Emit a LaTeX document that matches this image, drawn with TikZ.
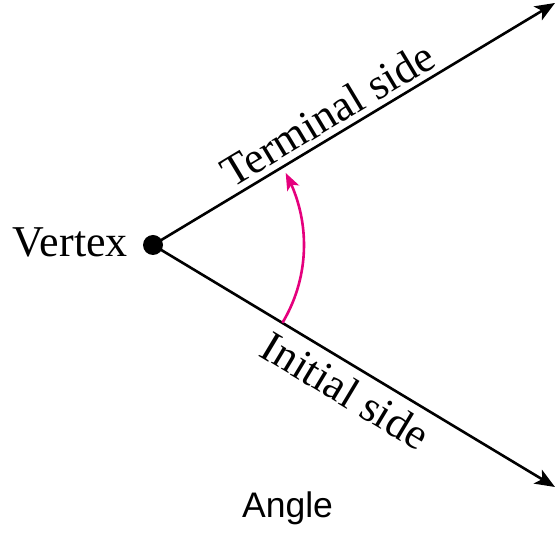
\documentclass[tikz,border=0pt]{standalone}
\usepackage{fontspec}
\setmainfont{Liberation Serif}
\newfontfamily\anglefont{Liberation Sans}
\usetikzlibrary{arrows.meta,bending,calc}
\definecolor{mag}{HTML}{E5007D}
\begin{document}
\begin{tikzpicture}[x=1pt,y=1pt,
  side/.style={line width=2.6pt, -{Stealth[length=20pt,width=16pt,inset=5pt]}},
  sweep/.style={line width=2.6pt, draw=mag, -{Stealth[length=17pt,width=13pt,inset=4pt,flex]}},
  lab/.style={font=\fontsize{44}{44}\selectfont, inner sep=0pt},
  titlelab/.style={font=\anglefont\fontsize{35.5}{35.5}\selectfont, inner sep=0pt}]
\useasboundingbox (0,0) rectangle (556,532);
\fill[white] (0,0) rectangle (556,532);
\node[circle, fill=black, inner sep=0pt, minimum size=20pt] (V) at (153,287) {};
\coordinate (T) at (555,529);
\coordinate (I) at (555,45);
\draw[side] (V.center) -- (T);
\draw[side] (V.center) -- (I);
\coordinate (A1) at ($(V.center)+(-31:151)$);
\draw[sweep] (A1) arc[start angle=-31, end angle=28.5, radius=151];
\node[lab, anchor=base east] (vx) at (128,275) {Vertex};
\node[lab, anchor=base, rotate=31] (ts) at ($(V.center)+(31:216.8)+(121:7.4)$) {Terminal side};
\node[lab, anchor=center, rotate=-31] (is) at ($(V.center)+(-31:240)+(-121:25.5)$) {Initial side};
\node[titlelab, anchor=base] (ang) at (287.5,14) {Angle};
\end{tikzpicture}
\end{document}
